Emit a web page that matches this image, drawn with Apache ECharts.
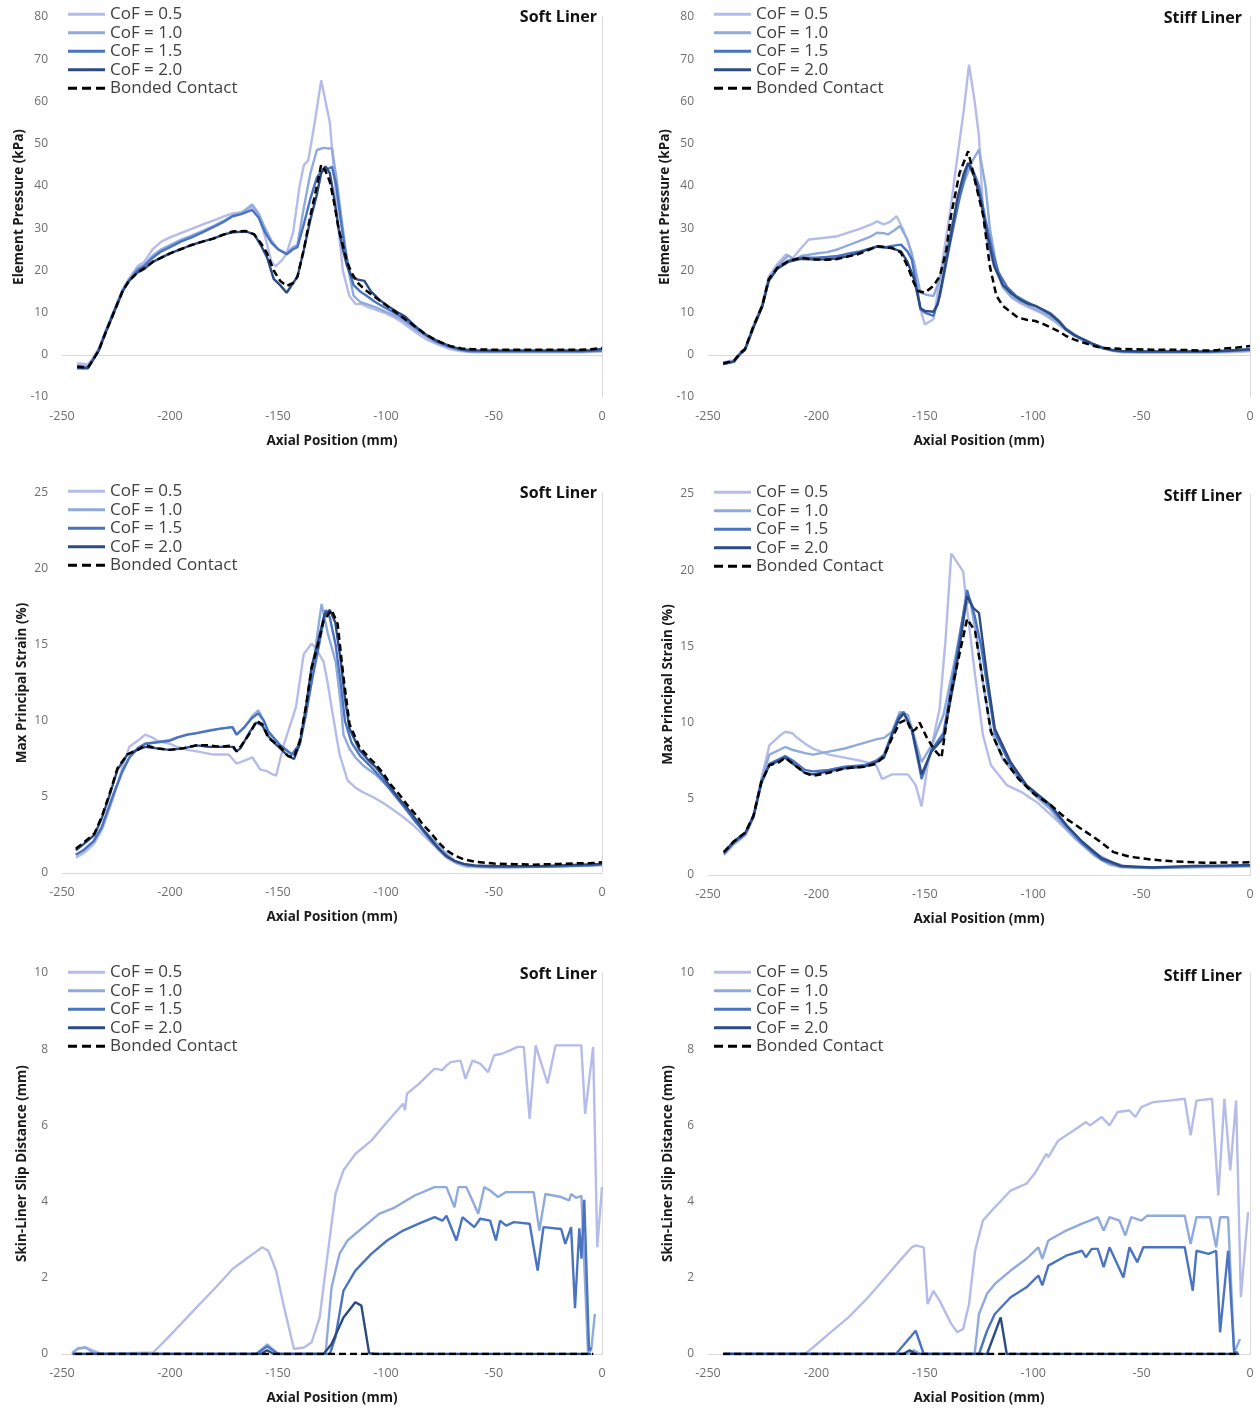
<!DOCTYPE html>
<html><head><meta charset="utf-8">
<script src="https://cdn.jsdelivr.net/npm/echarts@6/dist/echarts.min.js"></script>
<style>html,body{margin:0;padding:0;background:#fff}#c{width:1260px;height:1408px}</style>
</head><body><div id="c"></div>
<script>
// ---------- Series names / axis ticks ----------
const seriesNames = ['CoF = 0.5', 'CoF = 1.0', 'CoF = 1.5', 'CoF = 2.0', 'Bonded Contact'];
const xMin = -250, xMax = 0, xStep = 50;
const pressureTicks = [-10, 80, 10];
const strainTicks = [0, 25, 5];
const slipTicks = [0, 10, 2];

// ---------- Element pressure, soft liner ----------
const softP_05 = [[-243,-2],[-238,-2.3],[-236,-1],[-233,1.5],[-230,5.5],[-226,10.5],[-222,15.5],[-219,18],[-215,21],[-212,22],[-208,25],[-204,26.8],[-200,27.8],[-195,28.8],[-190,29.8],[-185,30.8],[-180,31.8],[-175,32.8],[-171,33.5],[-167,33.8],[-162,35],[-159,33],[-156,28],[-153,22],[-151,21],[-148,22.5],[-146,24],[-143,29],[-140,40],[-138,45],[-136,46],[-133,55],[-130,65],[-128,60],[-126,55],[-124,43],[-122,30],[-120,20],[-117,14],[-114,12],[-111,12],[-108,11.2],[-104,10.5],[-100,9.8],[-96,8.8],[-92,7.5],[-88,6],[-84,4.5],[-80,3.3],[-75,2.2],[-70,1.3],[-65,0.8],[-60,0.6],[-50,0.6],[-40,0.6],[-30,0.6],[-20,0.6],[-10,0.6],[0,0.8]];
const softP_10 = [[-243,-2.5],[-238,-2.8],[-236,-1.3],[-233,1.2],[-230,5.2],[-226,10.2],[-222,15.2],[-219,17.8],[-215,20.5],[-212,21.3],[-208,23.5],[-204,25],[-200,26],[-195,27.2],[-190,28.2],[-185,29.3],[-180,30.5],[-175,31.8],[-171,33],[-167,33.5],[-162,35.6],[-159,33.5],[-156,30],[-153,27],[-150,25],[-146,24],[-143,25.5],[-141,26],[-138,35],[-135,43],[-132,48.5],[-129,49],[-125,48.8],[-123,42],[-121,34],[-119,26],[-117,19],[-115,14],[-112,12.5],[-109,12],[-105,11.3],[-101,10.4],[-97,9.5],[-93,8.4],[-89,7],[-85,5.5],[-81,4.2],[-77,3],[-72,2],[-67,1.2],[-62,0.8],[-50,0.7],[-40,0.7],[-30,0.7],[-20,0.7],[-10,0.7],[0,0.9]];
const softP_15 = [[-243,-3],[-238,-3],[-236,-1.5],[-233,1],[-230,5],[-226,10],[-222,15],[-219,17.5],[-215,20],[-212,21],[-208,23],[-204,24.5],[-200,25.5],[-195,26.8],[-190,27.8],[-185,29],[-180,30.2],[-175,31.5],[-171,32.8],[-167,33.3],[-162,34.3],[-159,32.5],[-156,29],[-153,26.5],[-150,25],[-146,23.8],[-143,25],[-141,25.5],[-138,31],[-135,37],[-132,42],[-130,43.5],[-127,44],[-125,44.5],[-123,40],[-121,32],[-119,25],[-117,20],[-115,16.5],[-112,15],[-109,14],[-105,12.5],[-101,11.3],[-97,10.2],[-93,9],[-89,7.5],[-85,6],[-81,4.5],[-77,3.2],[-72,2.2],[-67,1.4],[-62,0.9],[-50,0.8],[-40,0.8],[-30,0.8],[-20,0.8],[-10,0.8],[0,1]];
const softP_20 = [[-243,-3.2],[-238,-3.2],[-236,-1.5],[-233,1],[-230,5],[-226,10],[-222,15],[-219,17.5],[-215,19.5],[-212,20.3],[-208,22],[-204,23],[-200,24],[-195,25],[-190,26],[-185,26.8],[-180,27.5],[-175,28.5],[-171,29],[-165,29.2],[-161,28.5],[-158,26],[-155,23],[-152,18],[-149,16.5],[-146,14.7],[-143,17],[-141,18.5],[-138,25],[-135,32],[-132,38],[-130,43],[-128,44.6],[-126,43],[-124,37],[-122,30],[-120,25],[-118,21],[-116,18.5],[-113,17.8],[-110,17.5],[-107,15],[-103,13],[-99,11.5],[-95,10.2],[-91,9],[-87,7],[-83,5.3],[-79,4],[-75,3],[-70,2],[-65,1.3],[-60,1.1],[-50,1],[-40,1],[-30,1],[-20,1],[-10,1],[-5,1.1],[0,1.4]];
const softP_bc = [[-243,-2.8],[-238,-3],[-236,-1.5],[-233,1],[-230,5],[-226,10],[-222,15],[-219,17.5],[-215,19.5],[-212,20.5],[-208,22],[-204,23],[-200,24],[-195,25],[-190,26],[-185,26.8],[-180,27.5],[-175,28.5],[-171,29.2],[-165,29.3],[-161,28.5],[-158,26.5],[-155,24],[-152,20],[-149,17.5],[-146,16.3],[-143,17],[-141,18.5],[-138,25],[-135,33],[-132,40],[-130,45],[-128,43.5],[-126,41],[-124,36],[-122,30],[-120,26],[-118,22],[-116,19.5],[-113,17],[-110,15.5],[-106,14],[-102,12.5],[-98,11],[-94,9.5],[-90,8],[-86,6.5],[-82,5],[-78,3.8],[-74,2.8],[-70,2],[-65,1.5],[-60,1.3],[-50,1.2],[-40,1.2],[-30,1.2],[-20,1.2],[-10,1.2],[-5,1.3],[0,1.6]];

// ---------- Element pressure, stiff liner ----------
const stiffP_05 = [[-243,-1.8],[-238,-1.3],[-235,0.6],[-233,1.4],[-229,7],[-225,12],[-222,18.5],[-218,21.5],[-214,23.8],[-211,22.8],[-207,25.3],[-203.5,27.3],[-198,27.6],[-191,28],[-185,29],[-180,29.8],[-175,30.8],[-172,31.6],[-169,30.9],[-166,31.5],[-163,32.8],[-160,29.7],[-156,24.2],[-152,10.8],[-150,7.2],[-146,8.4],[-144,15],[-141,25],[-138,35],[-136,43],[-132,58],[-129.6,68.7],[-127,60],[-125,51.7],[-123,32.8],[-121,26],[-118,21],[-114,16],[-110,13.5],[-106,12.2],[-102,11.2],[-98,10.3],[-94,9.2],[-90,7.8],[-86,6.2],[-82,4.8],[-78,3.6],[-73,2.4],[-68,1.5],[-63,0.9],[-59,0.6],[-50,0.5],[-40,0.5],[-30,0.5],[-20,0.5],[-10,0.6],[0,0.8]];
const stiffP_10 = [[-243,-2],[-238,-1.5],[-235,0.4],[-233,1.2],[-229,6.8],[-225,11.6],[-222,18],[-218,21],[-213,23.5],[-210,22.5],[-207,23.4],[-200,24],[-195,24.3],[-190,25],[-185,26],[-180,27],[-175,28],[-172,28.9],[-169,28.8],[-167,28.5],[-164,29.5],[-161.5,30.5],[-158,27.3],[-155,22],[-152,14.7],[-149,14.2],[-146,13.9],[-143,18],[-141,22.6],[-137,32],[-132,40.7],[-128,46],[-125,48.6],[-122,40],[-120,30],[-117,21],[-114,16],[-110,13.8],[-106,12.5],[-102,11.5],[-98,10.6],[-94,9.6],[-90,8.2],[-86,6.5],[-82,5],[-78,3.8],[-73,2.6],[-68,1.6],[-63,1],[-59,0.7],[-50,0.6],[-40,0.6],[-30,0.6],[-20,0.6],[-10,0.8],[0,1]];
const stiffP_15 = [[-243,-2.2],[-238,-1.6],[-235,0.3],[-233,1.1],[-229,6.5],[-225,11.4],[-222,17.5],[-218,20.5],[-213,22.3],[-207,23],[-200,23],[-195,23.2],[-190,23.4],[-185,24],[-180,24.5],[-175,25.2],[-172,25.7],[-168,25.5],[-165,25.8],[-161,26.1],[-158,24.5],[-156,22.6],[-152,10.8],[-150,10],[-146,9.2],[-143,14],[-140,22],[-138,27.3],[-134,37],[-130,45.4],[-128,44],[-125,40],[-122,32],[-119,25],[-116,19.5],[-112,16],[-108,14],[-104,12.8],[-100,11.8],[-96,10.8],[-92,9.8],[-88,8],[-85,6.2],[-81,4.8],[-77,3.6],[-72,2.4],[-68,1.6],[-63,1],[-59,0.8],[-50,0.7],[-40,0.7],[-30,0.7],[-20,0.7],[-10,0.9],[0,1.2]];
const stiffP_20 = [[-243,-2.2],[-238,-1.6],[-235,0.3],[-233,1.1],[-229,6.5],[-225,11.4],[-222,17.5],[-218,20.4],[-213,22],[-207,22.7],[-202,22.6],[-196,22.6],[-191,22.8],[-186,23.3],[-181,24],[-176,25],[-172,25.6],[-168,25.4],[-165,25.2],[-161,24.5],[-158,22],[-155,18],[-152,11],[-150,10.4],[-146,10.2],[-144,12],[-141,20],[-138,28],[-135,37],[-132,43],[-130,45.4],[-127,42],[-124,36],[-121,28],[-118,21],[-114,16.5],[-110,14.5],[-106,13],[-102,12],[-99,11.6],[-95,10.5],[-92,9.6],[-88,7.8],[-85,6],[-81,4.6],[-77,3.7],[-72,2.5],[-68,1.7],[-63,1.1],[-59,0.9],[-50,0.8],[-40,0.8],[-30,0.8],[-20,0.8],[-10,1],[0,1.3]];
const stiffP_bc = [[-243,-2],[-238,-1.4],[-235,0.5],[-233,1.3],[-229,6.8],[-225,11.6],[-222,17.9],[-218,20.6],[-213,22.2],[-207,23],[-202,22.6],[-196,22.5],[-191,22.6],[-186,23.2],[-181,23.8],[-176,24.8],[-172,25.7],[-168,25.5],[-165,25.3],[-161,24.2],[-158,21],[-155,17],[-153,15.1],[-150,14.7],[-146,16.3],[-143,18.7],[-140,25],[-138,32.8],[-134,43],[-130,48.2],[-127,41.5],[-123,32.8],[-120,21],[-117,14],[-114,11.6],[-110,10],[-107,8.8],[-103,8.3],[-99,8],[-95,7.2],[-92,6.5],[-88,5.5],[-85,4.5],[-81,3.6],[-77,2.9],[-72,2.1],[-68,1.6],[-60,1.4],[-54,1.3],[-45,1.2],[-35,1.2],[-28,1.1],[-21,1],[-15,1.1],[-12,1.5],[-6,1.7],[0,2.1]];

// ---------- Max principal strain, soft liner ----------
const softS_05 = [[-243.6,1.0],[-240,1.3],[-235.3,1.9],[-231.6,2.8],[-226.1,5.0],[-222,7],[-218.8,8.3],[-214,8.8],[-211.5,9.1],[-208,8.9],[-206,8.7],[-200,8.5],[-196.8,8.3],[-192,8.1],[-187.6,8.0],[-184,7.9],[-180.3,7.8],[-176,7.8],[-173,7.8],[-171,7.5],[-169.2,7.2],[-165.5,7.4],[-161.8,7.6],[-158.2,6.8],[-155,6.7],[-152.7,6.5],[-150.9,6.4],[-147.2,8.5],[-141.7,10.9],[-138.1,14.4],[-134.4,15.1],[-132.6,14.8],[-128.9,13.9],[-127,12.5],[-125.2,10.9],[-121.5,7.8],[-117.8,6.1],[-114,5.6],[-110.5,5.3],[-106,5],[-101.3,4.6],[-97,4.2],[-92.2,3.7],[-87,3.1],[-81.2,2.3],[-77,1.7],[-72,1.0],[-67,0.6],[-62.8,0.4],[-55,0.38],[-45,0.38],[-35,0.4],[-25,0.42],[-15,0.45],[-5,0.48],[0,0.5]];
const softS_10 = [[-243.6,1.2],[-240,1.5],[-235.3,2.1],[-231.6,3],[-226.1,5.2],[-222,6.7],[-218.8,7.6],[-215,8.2],[-211.5,8.5],[-206,8.6],[-200,8.75],[-196.8,8.9],[-192,9.1],[-187.6,9.2],[-182,9.4],[-176.6,9.5],[-171.1,9.6],[-169.2,9.1],[-165.5,9.6],[-162,10.3],[-159.1,10.7],[-156.5,10],[-154.5,9.3],[-149,8.4],[-143.5,7.8],[-139.9,8.5],[-137,10.5],[-134.4,12.6],[-132,15.5],[-129.8,17.7],[-127,15.8],[-123.3,13.9],[-121,11.2],[-119.7,9.1],[-117,8.2],[-114.2,7.6],[-110,7],[-105,6.5],[-100,5.8],[-95.8,5.2],[-91,4.3],[-86.7,3.4],[-82,2.7],[-77.5,2.1],[-73,1.4],[-68.3,0.8],[-63,0.5],[-59,0.42],[-50,0.38],[-40.7,0.37],[-30,0.4],[-22.4,0.42],[-10,0.5],[0,0.55]];
const softS_15 = [[-243.6,1.2],[-240,1.5],[-235.3,2.1],[-231.6,3],[-226.1,5.2],[-222,6.7],[-218.8,7.6],[-215,8.2],[-211.5,8.5],[-206,8.6],[-200,8.7],[-196.8,8.9],[-192,9.1],[-187.6,9.2],[-182,9.35],[-176.6,9.5],[-171.1,9.6],[-169.2,9.1],[-165.5,9.6],[-162,10.2],[-159.1,10.5],[-156.5,10],[-154.5,9.3],[-149,8.4],[-143.5,7.8],[-139.9,8.5],[-137,10.5],[-134.4,12.6],[-131,15],[-128,17.3],[-126,16.8],[-123.3,15],[-121,12.5],[-119,10],[-116,8.6],[-112,7.7],[-107,7],[-102,6.2],[-97,5.3],[-92,4.4],[-87,3.5],[-83,2.8],[-79,2.1],[-75,1.5],[-71,1],[-67,0.7],[-62,0.5],[-55,0.42],[-45,0.4],[-35,0.4],[-25,0.42],[-15,0.45],[-5,0.5],[0,0.55]];
const softS_20 = [[-243.6,1.5],[-240,1.9],[-235,2.5],[-231.6,3.6],[-228,5.1],[-224.3,6.8],[-219.7,7.8],[-215,8.1],[-211.5,8.3],[-206,8.2],[-200.4,8.1],[-194,8.2],[-187.6,8.4],[-182,8.3],[-176.6,8.3],[-171,8.3],[-169.2,8.0],[-167.4,8.2],[-163,9.3],[-160,9.9],[-157.3,9.7],[-154.5,9],[-152.7,8.7],[-149,8.2],[-145.4,7.7],[-142.6,7.5],[-139.9,8.5],[-137,11],[-134.4,13.6],[-131,15.5],[-128.5,17],[-126,17.3],[-123.5,16.5],[-121,14],[-119,11.5],[-116.9,9.5],[-112.3,8.1],[-108,7.4],[-105,7],[-101,6.3],[-97.7,5.6],[-94,4.9],[-90.3,4.3],[-86,3.5],[-83,2.9],[-79,2.2],[-75.6,1.6],[-72,1.1],[-68.3,0.8],[-64,0.6],[-59,0.5],[-50,0.45],[-40,0.45],[-30,0.45],[-20,0.5],[-10,0.55],[0,0.6]];
const softS_bc = [[-243.6,1.6],[-240,2],[-235,2.6],[-231.6,3.7],[-228,5.2],[-224.3,6.9],[-219.7,7.8],[-215,8.1],[-211.5,8.4],[-206,8.2],[-200.4,8.1],[-194,8.2],[-187.6,8.4],[-182,8.4],[-176.6,8.3],[-171,8.4],[-169.2,8.0],[-167.4,8.3],[-163,9.2],[-160,10],[-157.3,9.8],[-154.5,8.9],[-152.7,8.7],[-149,8.3],[-145.4,7.7],[-142.6,7.6],[-139.9,8.7],[-137,11],[-134.4,13.5],[-131,15.3],[-128.9,16.6],[-125.2,17.3],[-122.4,16.4],[-119.7,12.9],[-116.9,9.8],[-112.3,8.3],[-108,7.6],[-105,7.2],[-101,6.5],[-97.7,5.8],[-94,5.2],[-90.3,4.5],[-86,3.8],[-83,3.2],[-79,2.6],[-75.6,2],[-72,1.5],[-68.3,1.15],[-64,0.9],[-59,0.75],[-50,0.62],[-40,0.58],[-31.6,0.55],[-20,0.6],[-13.3,0.63],[-5,0.65],[0,0.7]];

// ---------- Max principal strain, stiff liner ----------
const stiffS_05 = [[-242.7,1.3],[-238.1,2.0],[-232.7,2.6],[-229,3.8],[-225.4,6.3],[-221.7,8.5],[-217.2,9.1],[-214.4,9.4],[-211,9.3],[-208.9,9.0],[-205,8.6],[-201.6,8.3],[-194.3,7.9],[-187,7.7],[-179.7,7.5],[-172.4,7.2],[-169.7,6.3],[-165.1,6.6],[-157.8,6.6],[-154.2,5.9],[-151.5,4.5],[-148.7,7.2],[-143.2,10.9],[-140.5,15.3],[-137.8,21.1],[-135,20.5],[-132.3,19.9],[-130.5,17.5],[-126.8,13.1],[-123.2,9.2],[-119.5,7.2],[-112.2,5.9],[-104.9,5.4],[-97.6,4.7],[-88.5,3.5],[-81.2,2.5],[-72.1,1.5],[-62.9,0.77],[-53.8,0.48],[-40,0.48],[-25,0.5],[-10,0.52],[0,0.55]];
const stiffS_10 = [[-242.7,1.4],[-238.1,2.1],[-232.7,2.7],[-229,3.8],[-225.4,6.2],[-221.7,7.9],[-217.2,8.2],[-214.4,8.4],[-210.8,8.2],[-205.3,8.0],[-201.6,7.9],[-194.3,8.1],[-187,8.3],[-182,8.5],[-176,8.75],[-172.4,8.9],[-168.8,9.0],[-165.1,9.4],[-161.5,10.7],[-157.8,10.5],[-154.2,8.75],[-151.5,7.4],[-146.9,8.5],[-141.4,10.5],[-136,14.2],[-131.4,17.7],[-129,18.0],[-126,15.5],[-123,12.5],[-119.5,9.5],[-114,7.6],[-106,6.2],[-99,5.2],[-92,4.3],[-86,3.2],[-80,2.3],[-72,1.3],[-65,0.7],[-59,0.5],[-45,0.45],[-30,0.5],[-15,0.55],[0,0.6]];
const stiffS_15 = [[-242.7,1.4],[-238.1,2.1],[-232.7,2.7],[-229,3.8],[-225.4,6],[-221.7,7.3],[-217.2,7.6],[-214.4,7.8],[-210.8,7.5],[-205.3,6.9],[-201.6,6.8],[-194.3,6.9],[-187,7.1],[-178,7.2],[-172.4,7.5],[-168.8,7.9],[-165.1,9.3],[-162,10.4],[-159.7,10.7],[-156,9.5],[-152.4,7],[-151.5,6.3],[-146.9,8.2],[-141.4,9.3],[-136,13.8],[-130.5,18.7],[-127,17],[-124,15],[-121.3,12.5],[-117.7,9.3],[-110.4,7.2],[-103.1,5.8],[-92,4.5],[-84.8,3.2],[-77.5,2.1],[-68.4,1.0],[-59.3,0.55],[-44.7,0.48],[-26.4,0.55],[-10,0.6],[0,0.62]];
const stiffS_20 = [[-242.7,1.5],[-238.1,2.2],[-232.7,2.8],[-229,3.9],[-225.4,6.1],[-221.7,7.2],[-217.2,7.5],[-214.4,7.7],[-210.8,7.3],[-205.3,6.7],[-201.6,6.6],[-194.3,6.8],[-187,7.0],[-178,7.1],[-172.4,7.4],[-168.8,7.7],[-165.1,9.2],[-162,10.2],[-159.7,10.6],[-156,9.6],[-152.4,7.2],[-151.5,6.6],[-146.9,8.1],[-141.4,9.0],[-136,13.1],[-130.5,18.3],[-127.5,17.5],[-125,17.2],[-121.3,13.1],[-117.7,9.6],[-110.4,7.4],[-103.1,5.9],[-92,4.6],[-84.8,3.3],[-77.5,2.2],[-68.4,1.1],[-59.3,0.6],[-44.7,0.5],[-26.4,0.6],[-10,0.62],[0,0.65]];
const stiffS_bc = [[-242.7,1.5],[-238.1,2.2],[-232.7,2.8],[-229,3.9],[-225.4,6.1],[-221.7,7.2],[-217.2,7.4],[-214.4,7.7],[-210.8,7.3],[-205.3,6.7],[-201.6,6.5],[-194.3,6.7],[-187,7.0],[-178,7.1],[-172.4,7.3],[-168.8,7.8],[-165.1,9.0],[-161.5,10],[-158.5,10.2],[-156,9.4],[-154,9.6],[-152.4,10],[-149,9],[-145.5,8.2],[-142.3,7.7],[-140,10],[-137.8,12],[-134,14.5],[-130.5,16.8],[-126.8,16],[-123.2,12.7],[-119.5,9.4],[-114,7.7],[-106.7,6.3],[-99.4,5.3],[-92,4.6],[-84.8,3.7],[-77.5,3.0],[-70.2,2.3],[-62.9,1.5],[-55.6,1.2],[-44.7,1.0],[-35.6,0.9],[-21,0.8],[-10,0.82],[0,0.83]];

// ---------- Skin-liner slip distance, soft liner ----------
const softL_05 = [[-245.4,0.04],[-242.7,0.13],[-239,0.17],[-235.3,0.09],[-231.6,0],[-207.8,0.04],[-202.3,0.35],[-194.9,0.79],[-187.6,1.23],[-180.3,1.66],[-174.7,2.0],[-171.1,2.23],[-163.7,2.54],[-157.3,2.8],[-154.5,2.71],[-150.9,2.19],[-147.2,1.23],[-142.6,0.13],[-138,0.17],[-134.4,0.31],[-130.7,0.96],[-127,2.63],[-123.4,4.2],[-119.7,4.82],[-114.2,5.25],[-106.8,5.6],[-99.5,6.09],[-92.1,6.57],[-91.2,6.4],[-90.3,6.83],[-84.8,7.09],[-77.5,7.49],[-74,7.45],[-72,7.57],[-70.1,7.66],[-65.5,7.7],[-63.2,7.22],[-60,7.7],[-56.4,7.62],[-52.7,7.4],[-50,7.84],[-46.3,7.88],[-42.6,7.97],[-39,8.06],[-36.2,8.06],[-33.5,6.17],[-30.7,8.1],[-25.2,7.1],[-21.5,8.1],[-9.6,8.1],[-7.8,6.3],[-4.1,8.06],[-2.2,2.8],[0,4.38]];
const softL_10 = [[-245.4,0],[-242.7,0.15],[-239,0.17],[-236,0.05],[-233,0],[-160,0],[-155,0.25],[-150,0],[-128,0],[-125.2,1.75],[-121.5,2.63],[-117.8,2.98],[-110.5,3.33],[-103.2,3.68],[-95.8,3.85],[-86.7,4.16],[-77.5,4.38],[-72,4.38],[-68.3,3.85],[-66.5,4.38],[-62.8,4.38],[-60,4.03],[-57.3,3.68],[-54.5,4.38],[-51.8,4.29],[-48.1,4.12],[-44.4,4.25],[-37.1,4.25],[-31.6,4.25],[-29,3.24],[-26.2,4.2],[-18.9,4.12],[-15.2,4.03],[-14.3,4.2],[-12,4.1],[-9.5,4.15],[-6.5,0.05],[-5,0.1],[-3.3,1.05]];
const softL_15 = [[-245,0],[-160,0],[-155,0.2],[-150,0],[-126,0],[-123.4,0.44],[-119.7,1.66],[-114.2,2.19],[-106.8,2.63],[-99.5,2.98],[-92.1,3.24],[-84.8,3.42],[-77.5,3.59],[-73.9,3.5],[-72,3.63],[-67.4,2.98],[-64.6,3.59],[-59.1,3.33],[-56.4,3.55],[-51.8,3.5],[-49.1,2.98],[-47.2,3.5],[-44.4,3.37],[-40.8,3.46],[-33.5,3.42],[-29.8,2.19],[-27.1,3.33],[-18.9,3.28],[-17,2.89],[-14.3,3.33],[-12.5,1.2],[-10.5,3.3],[-9.5,2.5],[-8.2,4.05],[-6,0.09],[-5,0.17]];
const softL_20 = [[-245,0],[-158,0],[-155,0.1],[-152,0],[-128.9,0],[-125.2,0.26],[-119.7,0.96],[-114.2,1.36],[-111.4,1.27],[-107.8,0.02],[-105,0],[-5,0]];
const softL_bc = [[-244,0],[-150,0],[-100,0],[-50,0],[-4,0]];

// ---------- Skin-liner slip distance, stiff liner ----------
const stiffL_05 = [[-243,0],[-205.3,0],[-201.6,0.17],[-194.3,0.53],[-185.2,0.96],[-176.1,1.49],[-168.8,1.97],[-161.5,2.45],[-156,2.8],[-154.2,2.85],[-150.5,2.8],[-148.7,1.31],[-146,1.66],[-143.2,1.4],[-137.8,0.79],[-135,0.57],[-132.3,0.66],[-129.6,1.31],[-126.8,2.71],[-123.2,3.5],[-117.7,3.85],[-110.4,4.29],[-103.1,4.47],[-99.4,4.73],[-93.9,5.25],[-93,5.17],[-88.5,5.6],[-81.2,5.87],[-75.7,6.09],[-73.9,6.0],[-68.4,6.22],[-64.8,6.0],[-61.1,6.35],[-55.6,6.39],[-52.9,6.22],[-50.1,6.48],[-44.7,6.61],[-37.4,6.65],[-30.1,6.7],[-27.4,5.74],[-24.7,6.65],[-17.5,6.7],[-14.6,4.16],[-11.8,6.7],[-9.1,4.82],[-6.4,6.65],[-4.2,1.49],[-0.9,3.72]];
const stiffL_10 = [[-243,0],[-158,0],[-155,0.1],[-152,0],[-127,0],[-125,1.05],[-121.3,1.58],[-117.7,1.84],[-110.4,2.19],[-103.1,2.5],[-97.6,2.8],[-95.8,2.5],[-93,2.98],[-84.8,3.24],[-77.5,3.42],[-73.9,3.5],[-70.2,3.59],[-67.5,3.24],[-64.8,3.59],[-60.2,3.5],[-57.5,3.11],[-54.8,3.59],[-50.1,3.5],[-47.4,3.63],[-30.1,3.63],[-27.4,2.89],[-24.7,3.59],[-18.4,3.59],[-15.6,2.8],[-13.8,3.59],[-10.1,3.59],[-7.3,0.04],[-4.6,0.39]];
const stiffL_15 = [[-243,0],[-163.3,0],[-154.2,0.61],[-150.5,0],[-125,0],[-121.3,0.61],[-117.7,1.05],[-110.4,1.49],[-103.1,1.75],[-97.6,2.06],[-95.8,1.8],[-93,2.32],[-84.8,2.58],[-77.5,2.71],[-75.7,2.54],[-73,2.76],[-70.2,2.76],[-67.5,2.28],[-64.8,2.8],[-58.4,2.01],[-55.6,2.8],[-52,2.41],[-49.2,2.8],[-30.1,2.8],[-26.4,1.66],[-24.7,2.71],[-19.1,2.63],[-15.6,2.71],[-13.8,0.57],[-10.1,2.71],[-7.3,0.04],[-5.5,0.04]];
const stiffL_20 = [[-243,0],[-160,0],[-157,0.1],[-154,0],[-121.3,0],[-115,0.96],[-112.2,0],[-5,0]];
const stiffL_bc = [[-243,0],[-150,0],[-100,0],[-50,0],[-5,0]];

// ---------- Styling ----------
const colors = ['#b5bce8', '#8faadc', '#4a74c2', '#2b4b82', '#000000'];
const FONT = 'Open Sans';
const solidIcon = 'path://M0,0H37V3H0Z';
const dashIcon = 'path://M0,0H9V3H0Z M14,0H23V3H14Z M28,0H37V3H28Z';

const panels = [
  { grid: [62, 17, 540, 380], ticks: pressureTicks, yName: 'Element Pressure (kPa)', yGap: 36, title: 'Soft Liner', titleTop: 4, legendTop: 0, zeroMark: true, data: [softP_05, softP_10, softP_15, softP_20, softP_bc] },
  { grid: [708, 17, 542, 380], ticks: pressureTicks, yName: 'Element Pressure (kPa)', yGap: 36, title: 'Stiff Liner', titleTop: 5, legendTop: 0, zeroMark: true, data: [stiffP_05, stiffP_10, stiffP_15, stiffP_20, stiffP_bc] },
  { grid: [62, 493, 540, 380], ticks: strainTicks, yName: 'Max Principal Strain (%)', yGap: 33, title: 'Soft Liner', titleTop: 480, legendTop: 477, data: [softS_05, softS_10, softS_15, softS_20, softS_bc] },
  { grid: [708, 494, 542, 381], ticks: strainTicks, yName: 'Max Principal Strain (%)', yGap: 33, title: 'Stiff Liner', titleTop: 483, legendTop: 478, data: [stiffS_05, stiffS_10, stiffS_15, stiffS_20, stiffS_bc] },
  { grid: [62, 973, 540, 381], ticks: slipTicks, yName: 'Skin-Liner Slip Distance (mm)', yGap: 33, title: 'Soft Liner', titleTop: 961, legendTop: 958, data: [softL_05, softL_10, softL_15, softL_20, softL_bc] },
  { grid: [708, 973, 542, 381], ticks: slipTicks, yName: 'Skin-Liner Slip Distance (mm)', yGap: 33, title: 'Stiff Liner', titleTop: 963, legendTop: 958, data: [stiffL_05, stiffL_10, stiffL_15, stiffL_20, stiffL_bc] }
];

const option = { animation: false, backgroundColor: '#ffffff', grid: [], xAxis: [], yAxis: [], series: [], legend: [], title: [] };

panels.forEach((p, i) => {
  const [gl, gt, gw, gh] = p.grid;
  option.grid.push({ left: gl, top: gt, width: gw, height: gh, containLabel: false });
  option.xAxis.push({
    type: 'value', gridIndex: i, min: xMin, max: xMax, interval: xStep,
    axisLine: { show: !p.zeroMark, onZero: false, lineStyle: { color: '#d9d9d9', width: 1 } },
    axisTick: { show: false }, splitLine: { show: false },
    axisLabel: { color: '#6e6e6e', fontSize: 12.5, fontFamily: FONT, margin: 13 },
    name: 'Axial Position (mm)', nameLocation: 'middle', nameGap: 37,
    nameTextStyle: { color: '#1a1a1a', fontSize: 13.5, fontWeight: 'bold', fontFamily: FONT }
  });
  option.yAxis.push({
    type: 'value', gridIndex: i, position: 'left', min: p.ticks[0], max: p.ticks[1], interval: p.ticks[2],
    axisLine: { show: false }, axisTick: { show: false }, splitLine: { show: false },
    axisLabel: { color: '#6e6e6e', fontSize: 12, fontFamily: FONT, margin: 14 },
    name: p.yName, nameLocation: 'middle', nameRotate: 90, nameGap: p.yGap,
    nameTextStyle: { color: '#1a1a1a', fontSize: 13.5, fontWeight: 'bold', fontFamily: FONT }
  });
  option.yAxis.push({
    type: 'value', gridIndex: i, position: 'right', min: p.ticks[0], max: p.ticks[1], interval: p.ticks[2],
    axisLine: { show: true, lineStyle: { color: '#d9d9d9', width: 1 } },
    axisTick: { show: false }, splitLine: { show: false }, axisLabel: { show: false }
  });
  p.data.forEach((d, k) => {
    const s = {
      type: 'line', name: seriesNames[k], xAxisIndex: i, yAxisIndex: 2 * i, data: d,
      symbol: 'none', showSymbol: false, smooth: false, z: 2 + k,
      lineStyle: { color: colors[k], width: k === 4 ? 2.5 : 2.4, type: k === 4 ? [7, 4] : 'solid' },
      itemStyle: { color: colors[k] }
    };
    if (k === 0 && p.zeroMark) {
      s.markLine = {
        silent: true, symbol: ['none', 'none'], label: { show: false },
        lineStyle: { color: '#d9d9d9', width: 1, type: 'solid' },
        data: [{ yAxis: 0 }], z: 1
      };
    }
    option.series.push(s);
  });
  option.legend.push({
    data: seriesNames.map((n, k) => ({ name: n, icon: k === 4 ? dashIcon : solidIcon })),
    orient: 'vertical', left: gl + 1, top: p.legendTop,
    itemWidth: 37, itemHeight: 3, itemGap: 0,
    textStyle: { fontSize: 17, fontFamily: FONT, color: '#404040', lineHeight: 18.5 },
    selectedMode: false
  });
  option.title.push({
    text: p.title, right: (i % 2 === 0) ? 1260 - 597 - 5 : 1260 - 1242 - 5, top: p.titleTop,
    textStyle: { fontSize: 16, fontWeight: 'bold', fontFamily: FONT, color: '#111' }
  });
});

const chart = echarts.init(document.getElementById('c'), null, { renderer: 'canvas' });
chart.setOption(option);
</script>
</body></html>
